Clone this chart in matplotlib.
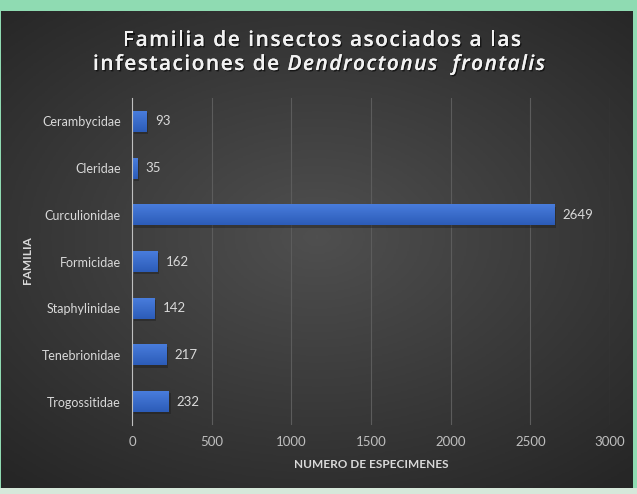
import numpy as np
import matplotlib.pyplot as plt
import matplotlib.patheffects as pe
from matplotlib.colors import LinearSegmentedColormap

familias = ['Cerambycidae', 'Cleridae', 'Curculionidae', 'Formicidae',
            'Staphylinidae', 'Tenebrionidae', 'Trogossitidae']
especimenes = [93, 35, 2649, 162, 142, 217, 232]
x_ticks = [0, 500, 1000, 1500, 2000, 2500, 3000]

W, H = 637, 494
fig = plt.figure(figsize=(W / 100, H / 100), dpi=100)
fig.patch.set_facecolor('#8fdbb2')

# dark panel with radial gradient
bg = fig.add_axes([1 / W, 6 / H, 632 / W, 477 / H])
yy, xx = np.mgrid[-1:1:300j, -1:1:400j]
r = np.sqrt((xx * 0.9) ** 2 + (yy * 1.0 + 0.05) ** 2)
grad = np.clip(1 - r / 1.35, 0, 1)
cmap_bg = LinearSegmentedColormap.from_list('bg', ['#262626', '#4f4f4f'])
bg.imshow(grad, cmap=cmap_bg, aspect='auto', extent=[0, 1, 0, 1])
bg.set_axis_off()
# bottom light strip
strip = fig.add_axes([0, 0, 1, 6 / H])
strip.set_axis_off()
strip.add_patch(plt.Rectangle((0, 0), 1, 1, color='#d6e8da', transform=strip.transAxes))

ax = fig.add_axes([132 / W, 1 - 425 / H, (610 - 132) / W, (425 - 98) / H])
ax.set_facecolor('none')

y = np.arange(len(familias))
bars = ax.barh(y, especimenes, height=0.45, color='#3f6fd1', zorder=3)
cmap_bar = LinearSegmentedColormap.from_list('bar', ['#2c5cb8', '#4a7ede'])
for b, v in zip(bars, especimenes):
    x0, y0 = b.get_x(), b.get_y()
    w, h = b.get_width(), b.get_height()
    # shadow
    ax.barh(y0 + h / 2 + 0.05, w, left=x0 + 10, height=h, color='#1a1a1a',
            alpha=0.4, zorder=2)
    im = ax.imshow(np.linspace(0, 1, 50).reshape(-1, 1), cmap=cmap_bar,
                   aspect='auto', extent=[x0, x0 + w, y0, y0 + h], zorder=4)
    im.set_clip_path(b)
    ax.text(v + 50, y0 + h / 2, str(v), va='center', ha='left',
            color='#d9d9d9', fontsize=9.5, family='Lato', zorder=5)

ax.set_xlim(0, 3000)
ax.set_ylim(len(familias) - 0.5, -0.5)
ax.set_xticks(x_ticks)
ax.set_xticklabels([str(t) for t in x_ticks], color='#bfbfbf', fontsize=9.5, family='Lato')
ax.set_yticks(y)
ax.set_yticklabels(familias, color='#d9d9d9', fontsize=9, family='Lato')
ax.tick_params(length=0, pad=8)
ax.xaxis.grid(True, color='#5c5c5c', linewidth=0.8, zorder=0)
for s in ['top', 'right', 'bottom']:
    ax.spines[s].set_visible(False)
ax.spines['left'].set_color('#bfbfbf')
ax.spines['left'].set_zorder(6)

ax.set_xlabel('NUMERO DE ESPECIMENES', color='#d9d9d9', fontsize=8.5,
              fontweight='bold', family='Lato', labelpad=8)
fig.text(28 / W, 1 - 260 / H, 'FAMILIA', rotation=90, color='#d9d9d9',
         fontsize=8.5, fontweight='bold', family='Lato', ha='center', va='center')

# title with letter spacing (characters placed one by one)
renderer = fig.canvas.get_renderer()
shadow = [pe.withSimplePatchShadow(offset=(1, -1), shadow_rgbFace='black', alpha=0.6),
          pe.Normal()]
TW = 'semibold'


def advance(ch, style):
    t1 = fig.text(0, 0, ch + '|', fontsize=15, fontweight=TW,
                  family='Open Sans', style=style)
    t2 = fig.text(0, 0, '|', fontsize=15, fontweight=TW,
                  family='Open Sans', style=style)
    a = t1.get_window_extent(renderer).width - t2.get_window_extent(renderer).width
    t1.remove()
    t2.remove()
    return a


def spaced_title(segments, left, right, ypix):
    chars = [(c, st) for txt, st in segments for c in txt]
    advs = [advance(c, st) for c, st in chars]
    extra = (right - left - sum(advs)) / (len(chars) - 1)
    x = left
    for (c, st), a in zip(chars, advs):
        if c != ' ':
            fig.text(x / W, 1 - ypix / H, c, fontsize=15, fontweight=TW,
                     family='Open Sans', style=st, color='#f2f2f2',
                     ha='left', va='baseline', path_effects=shadow)
        x += a + extra


spaced_title([('Familia de insectos asociados a las', 'normal')], 123, 521, 46)
spaced_title([('infestaciones de ', 'normal'), ('Dendroctonus  frontalis', 'italic')],
             93, 545, 70)

fig.savefig('out.png', dpi=100, facecolor=fig.get_facecolor())
